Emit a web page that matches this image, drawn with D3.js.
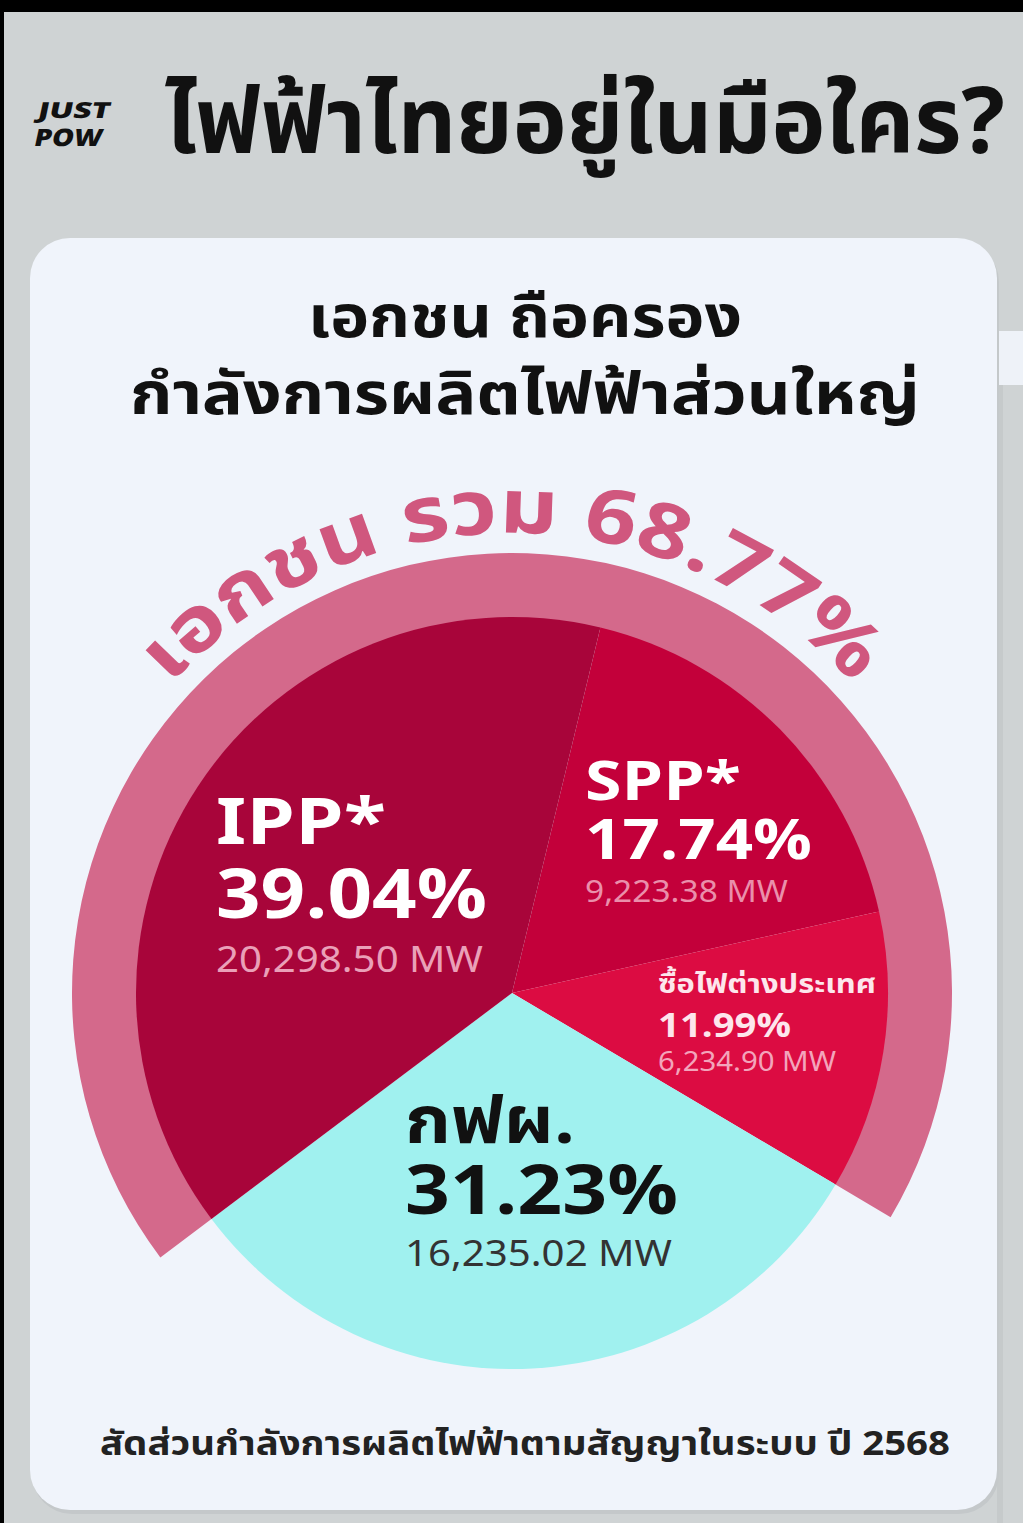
<!DOCTYPE html>
<html>
<head>
<meta charset="utf-8">
<script src="https://cdn.jsdelivr.net/npm/d3@7"></script>
<style>
  body { margin: 0; background: #000; }
  svg text { font-family: "Noto Sans Thai", "Noto Sans Thai UI", "Noto Sans", sans-serif; }
</style>
</head>
<body>
<div class="chart"></div>
<script>
// Data
// ================================
var names = ["SPP*", "ซื้อไฟต่างประเทศ", "กฟผ.", "IPP*"];
var shares = [17.74, 11.99, 31.23, 39.04];
var megawatts = [9223.38, 6234.90, 16235.02, 20298.50];
var isPrivate = [true, true, false, true];

var titleText = "ไฟฟ้าไทยอยู่ในมือใคร?";
var subtitleLines = ["เอกชน ถือครอง", "กำลังการผลิตไฟฟ้าส่วนใหญ่"];
var ringPrefix = "เอกชน รวม ";
var footerText = "สัดส่วนกำลังการผลิตไฟฟ้าตามสัญญาในระบบ ปี 2568";

// Chart setup
// ================================
var svgWidth = 1023;
var svgHeight = 1523;
var cx = 512, cy = 993;
var radius = 376;
var ringOuter = 440;
var startDeg = 13.6;

var sliceColors = ["#c3003a", "#dc0c42", "#a0f1ef", "#a8053a"];
var ringColor = "#d4698b";

var svg = d3.select(".chart")
  .append("svg")
  .attr("width", svgWidth)
  .attr("height", svgHeight);

// page background + card
svg.append("rect").attr("width", svgWidth).attr("height", svgHeight).attr("fill", "#000");
svg.append("rect").attr("x", 4).attr("y", 12).attr("width", svgWidth - 4).attr("height", svgHeight - 12).attr("fill", "#cfd3d4");
svg.append("rect").attr("x", 997).attr("y", 331).attr("width", 26).attr("height", 54).attr("fill", "#eef2f8");
svg.append("rect").attr("x", 997).attr("y", 385).attr("width", 6).attr("height", svgHeight - 385).attr("fill", "#c6cacb");
svg.append("rect").attr("x", 32).attr("y", 242).attr("width", 967).attr("height", 1272).attr("rx", 40).attr("fill", "#c4c8ca");
svg.append("rect").attr("x", 30).attr("y", 238).attr("width", 967).attr("height", 1272).attr("rx", 40).attr("fill", "#f0f4fb");

// logo
var logo = svg.append("g").attr("transform", "translate(38,0) skewX(-12)");
logo.append("text").attr("x", 24).attr("y", 118).attr("font-size", 22).attr("font-weight", 900)
  .attr("fill", "#111").attr("textLength", 72).attr("lengthAdjust", "spacingAndGlyphs").text("JUST");
logo.append("text").attr("x", 26).attr("y", 146).attr("font-size", 24).attr("font-weight", 900)
  .attr("fill", "#111").attr("textLength", 68).attr("lengthAdjust", "spacingAndGlyphs").text("POW");

// title
svg.append("text")
  .attr("x", 165).attr("y", 153)
  .attr("font-size", 92).attr("font-weight", 700).attr("fill", "#111")
  .attr("textLength", 840).attr("lengthAdjust", "spacingAndGlyphs")
  .text(titleText);

// subtitle
svg.append("text")
  .attr("x", 525).attr("y", 337).attr("text-anchor", "middle")
  .attr("font-size", 58).attr("font-weight", 700).attr("fill", "#111")
  .attr("textLength", 434).attr("lengthAdjust", "spacingAndGlyphs")
  .text(subtitleLines[0]);
svg.append("text")
  .attr("x", 525).attr("y", 414).attr("text-anchor", "middle")
  .attr("font-size", 58).attr("font-weight", 700).attr("fill", "#111")
  .attr("textLength", 790).attr("lengthAdjust", "spacingAndGlyphs")
  .text(subtitleLines[1]);

// Pie
// ================================
var rad = d => d * Math.PI / 180;

var pie = d3.pie()
  .sort(null)
  .value(d => d)
  .startAngle(rad(startDeg))
  .endAngle(rad(startDeg) + 2 * Math.PI);

var arcs = pie(shares);

var chartGroup = svg.append("g").attr("transform", `translate(${cx}, ${cy})`);

// outer ring over the private slices (from end of กฟผ. round to its start)
var egat = arcs[names.indexOf("กฟผ.")];
var privateTotal = d3.sum(shares.filter((d, i) => isPrivate[i]));

var ringArc = d3.arc().innerRadius(radius - 2).outerRadius(ringOuter);
chartGroup.append("path")
  .attr("d", ringArc({ startAngle: egat.endAngle, endAngle: egat.startAngle + 2 * Math.PI }))
  .attr("fill", ringColor);

var arcGen = d3.arc().innerRadius(0).outerRadius(radius);
chartGroup.selectAll(".slice")
  .data(arcs)
  .enter()
  .append("path")
  .attr("class", "slice")
  .attr("d", arcGen)
  .attr("fill", (d, i) => sliceColors[i]);

// curved total label
var textR = 460;
var p = d3.path();
p.arc(0, 0, textR, -Math.PI / 2 - rad(100), -Math.PI / 2 + rad(100));
chartGroup.append("path").attr("id", "ringPath").attr("d", p.toString()).attr("fill", "none");
chartGroup.append("text")
  .attr("font-size", 76).attr("font-weight", 700).attr("fill", "#d0577e")
  .append("textPath")
  .attr("href", "#ringPath")
  .attr("startOffset", "50%")
  .attr("text-anchor", "middle")
  .attr("textLength", 770)
  .attr("lengthAdjust", "spacingAndGlyphs")
  .text(ringPrefix + d3.format(".2f")(privateTotal) + "%");

// slice labels
// ================================
var pct = d => d3.format(".2f")(d) + "%";
var mw = d => d3.format(",.2f")(d) + " MW";

var labelLayout = [
  { x: 585, y: [800, 859, 902], size: [54, 56, 30], len: [156, 227, 203], color: ["#fff", "#fff", "#ea8fab"] },
  { x: 658, y: [993, 1037, 1071], size: [26, 34, 27], len: [218, 133, 178], color: ["#fde6ec", "#fde6ec", "#f3a4bb"] },
  { x: 405, y: [1143, 1214, 1266], size: [66, 68, 36], len: [170, 273, 267], color: ["#111", "#111", "#333"] },
  { x: 216, y: [844, 918, 972], size: [64, 68, 36], len: [170, 271, 267], color: ["#fff", "#fff", "#eaa0b8"] }
];

var labelGroup = svg.selectAll(".label")
  .data(arcs)
  .enter()
  .append("g")
  .attr("class", "label");

labelGroup.each(function (d, i) {
  var L = labelLayout[i];
  var lines = [names[i], pct(shares[i]), mw(megawatts[i])];
  var g = d3.select(this);
  lines.forEach(function (t, k) {
    g.append("text")
      .attr("x", L.x).attr("y", L.y[k])
      .attr("font-size", L.size[k])
      .attr("font-weight", k < 2 ? 700 : 400)
      .attr("fill", L.color[k])
      .attr("textLength", L.len[k])
      .attr("lengthAdjust", "spacingAndGlyphs")
      .text(t);
  });
});

// footer
svg.append("text")
  .attr("x", 100).attr("y", 1455)
  .attr("font-size", 34).attr("font-weight", 700).attr("fill", "#222")
  .attr("textLength", 850).attr("lengthAdjust", "spacingAndGlyphs")
  .text(footerText);
</script>
</body>
</html>
